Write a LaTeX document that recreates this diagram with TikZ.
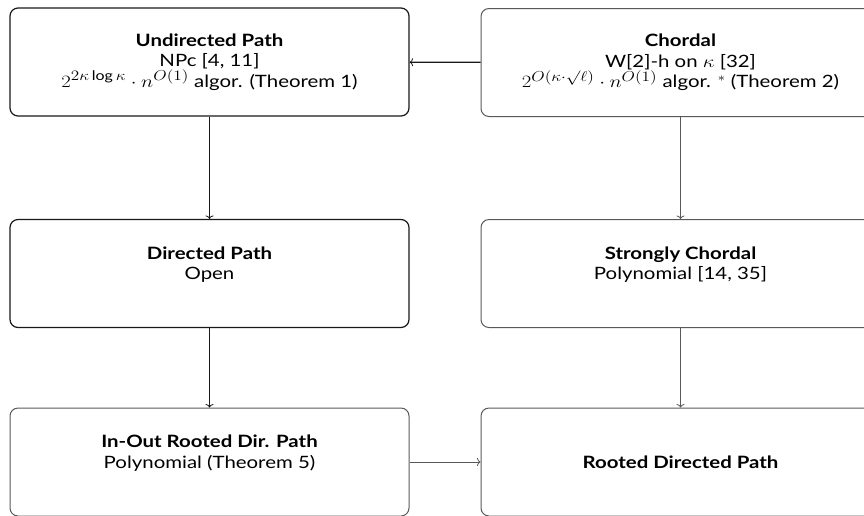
\documentclass[tikz,border=0pt]{standalone}
\usepackage{fontspec}
\setmainfont{Lato}
\usetikzlibrary{arrows.meta}
\newcommand{\bigmath}[1]{{\fontsize{19}{20.5}\selectfont$#1$}}
\begin{document}
\begin{tikzpicture}[x=1pt,y=-1pt,
  box/.style={draw, rounded corners=8pt, minimum width=399pt, minimum height=108pt, inner sep=0pt},
  boxdark/.style={box, draw=black!90, line width=1.2pt},
  boxlight/.style={box, draw=black!65, line width=1pt},
  txt/.style={align=center, inner sep=0pt, xscale=1.2, transform shape,
    font=\fontsize{17}{20.5}\selectfont},
  arrdark/.style={draw=black!90, line width=1.3pt, -{To[length=3.5pt,width=8pt,line width=0.8pt]}},
  arrlight/.style={draw=black!65, line width=0.9pt, -{To[length=3.5pt,width=8pt,line width=0.8pt]}}]
\useasboundingbox (0,0) rectangle (864,515);
\clip (0,0) rectangle (864,515);
\node[boxdark] (A) at (209.5,62) {};
\node[boxlight] (B) at (680.5,62.5) {};
\node[boxdark] (C) at (209.5,273.5) {};
\node[boxlight] (D) at (680.5,273.5) {};
\node[boxlight] (E) at (209.5,462) {};
\node[boxlight] (F) at (680.5,462) {};
\node[txt] (tA) at (A.center) {\textbf{Undirected Path}\\NPc [4, 11]\\\bigmath{2^{2\kappa\log\kappa}\cdot n^{O(1)}} algor. (Theorem 1)};
\node[txt] (tB) at (B.center) {\textbf{Chordal}\\W[2]-h on $\kappa$ [32]\\\bigmath{2^{O(\kappa\cdot\surd\ell)}\cdot n^{O(1)}} algor. $^*$ (Theorem 2)};
\node[txt] (tC) at (C.center) {\textbf{Directed Path}\\Open\\\mbox{}};
\node[txt] (tD) at (D.center) {\textbf{Strongly Chordal}\\Polynomial [14, 35]\\\mbox{}};
\node[txt] (tE) at (E.center) {\textbf{In-Out Rooted Dir. Path}\\Polynomial (Theorem 5)\\\mbox{}};
\node[txt] (tF) at (F.center) {\textbf{Rooted Directed Path}};
\draw[arrdark] (B) -- (A);
\draw[arrdark] (A) -- (C);
\draw[arrdark] (C) -- (E);
\draw[arrlight] (B) -- (D);
\draw[arrlight] (D) -- (F);
\draw[arrlight] (E) -- (F);
\end{tikzpicture}
\end{document}
